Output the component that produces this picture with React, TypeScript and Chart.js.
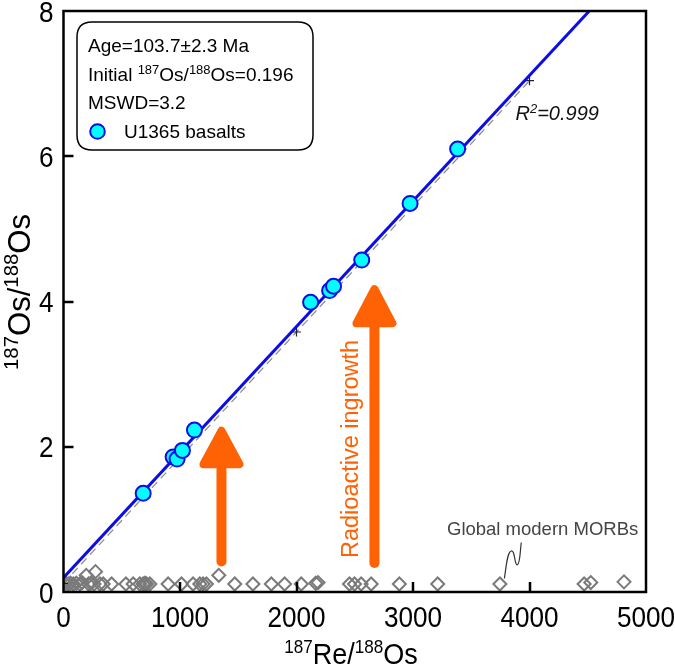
import React, { useEffect, useRef } from 'react';
import { Chart, registerables } from 'chart.js';
Chart.register(...registerables);

// U1365 basalts
const basaltRe = [684, 941, 975, 1021, 1124, 2121, 2284, 2318, 2560, 2975, 3383];
const basaltOs = [1.36, 1.86, 1.83, 1.95, 2.23, 3.99, 4.15, 4.21, 4.57, 5.35, 6.1];

// Global modern MORBs
const morbRe = [5, 20, 41, 60, 84, 110, 141, 160, 195, 215, 235, 262, 275, 313, 341, 413, 536, 598, 655, 684, 700, 713, 741, 898, 1013, 1112, 1170, 1198, 1227, 1333, 1470, 1626, 1784, 1898, 2041, 2165, 2185, 2455, 2498, 2555, 2641, 2883, 3212, 3746, 4469, 4526, 4811];
const morbOs = [0.13, 0.12, 0.11, 0.12, 0.11, 0.12, 0.11, 0.13, 0.23, 0.11, 0.12, 0.11, 0.28, 0.11, 0.11, 0.11, 0.11, 0.11, 0.11, 0.11, 0.12, 0.11, 0.11, 0.11, 0.11, 0.11, 0.11, 0.11, 0.11, 0.23, 0.11, 0.11, 0.11, 0.11, 0.11, 0.12, 0.13, 0.11, 0.11, 0.11, 0.11, 0.11, 0.11, 0.11, 0.11, 0.13, 0.14];

// isochron fit (Age=103.7 Ma, initial 0.196)
const fitRe = [0, 4513];
const fitOs = [0.196, 8];

// regression (R2 = 0.999)
const regRe = [0, 1000, 2000, 3000, 4000];
const regOs = [0.12, 1.85, 3.58, 5.31, 7.04];

const xTicks = [0, 1000, 2000, 3000, 4000, 5000];
const yTicks = [0, 2, 4, 6, 8];

// arrows: [Re, shaft start Os, head base Os, tip Os]
const arrowRe = [1356, 2669];
const arrowFrom = [0.42, 0.4];
const arrowBase = [1.76, 3.7];
const arrowTip = [2.22, 4.17];

// squiggle leader (data coords)
const squigRe = [3785, 3801, 3809, 3843, 3877, 3869, 3895, 3920, 3920, 3929];
const squigOs = [0.193, 0.358, 0.551, 0.565, 0.579, 0.372, 0.372, 0.386, 0.58, 0.675];

const SANS = '"Liberation Sans", Arial, Helvetica, sans-serif';
const ORANGE = '#ff6205';
const BLUE = '#0d0de6';
const NARROW_X = 0.9; // horizontal compression for the narrow axis font
const AX_SIZE = 29;
const AX_SUP = 19;

type Part = [string, boolean];

function richWidth(ctx: CanvasRenderingContext2D, parts: Part[], size: number, sup: number, style = '') {
  let w = 0;
  for (const [t, s] of parts) {
    ctx.font = `${style}${s ? sup : size}px ${SANS}`;
    w += ctx.measureText(t).width;
  }
  return w;
}

function drawRich(ctx: CanvasRenderingContext2D, parts: Part[], x: number, y: number, size: number, sup: number, align: 'left' | 'center', style = '') {
  const w = richWidth(ctx, parts, size, sup, style);
  let cx = align === 'center' ? x - w / 2 : x;
  ctx.textAlign = 'left';
  ctx.textBaseline = 'alphabetic';
  for (const [t, s] of parts) {
    ctx.font = `${style}${s ? sup : size}px ${SANS}`;
    ctx.fillText(t, cx, s ? y - size * 0.36 : y);
    cx += ctx.measureText(t).width;
  }
}

function narrowText(ctx: CanvasRenderingContext2D, text: string, x: number, y: number, align: CanvasTextAlign) {
  ctx.save();
  ctx.translate(x, y);
  ctx.scale(NARROW_X, 1);
  ctx.font = `${AX_SIZE}px ${SANS}`;
  ctx.textAlign = align;
  ctx.textBaseline = 'alphabetic';
  ctx.fillText(text, 0, 0);
  ctx.restore();
}

const decor = {
  id: 'decor',
  afterDatasetsDraw(chart: any) {
    const { ctx, scales } = chart;
    const x = scales.x;
    const y = scales.y;
    ctx.save();

    // arrows
    for (let i = 0; i < arrowRe.length; i++) {
      const px = x.getPixelForValue(arrowRe[i]);
      const pFrom = y.getPixelForValue(arrowFrom[i]);
      const pBase = y.getPixelForValue(arrowBase[i]);
      const pTip = y.getPixelForValue(arrowTip[i]);
      ctx.strokeStyle = ORANGE;
      ctx.fillStyle = ORANGE;
      ctx.lineCap = 'round';
      ctx.lineJoin = 'round';
      ctx.lineWidth = 10;
      ctx.beginPath();
      ctx.moveTo(px, pFrom);
      ctx.lineTo(px, pBase);
      ctx.stroke();
      ctx.lineWidth = 8;
      ctx.beginPath();
      ctx.moveTo(px - 18, pBase);
      ctx.lineTo(px, pTip);
      ctx.lineTo(px + 18, pBase);
      ctx.closePath();
      ctx.fill();
      ctx.stroke();
    }

    // Radioactive ingrowth label
    ctx.save();
    ctx.translate(x.getPixelForValue(2475), y.getPixelForValue(1.97));
    ctx.rotate(-Math.PI / 2);
    ctx.fillStyle = ORANGE;
    ctx.font = `23.5px ${SANS}`;
    ctx.textAlign = 'center';
    ctx.textBaseline = 'middle';
    ctx.fillText('Radioactive ingrowth', 0, 0);
    ctx.restore();

    // squiggle
    ctx.strokeStyle = '#333';
    ctx.lineWidth = 1.2;
    ctx.lineCap = 'round';
    const sp = squigRe.map((r, i) => [x.getPixelForValue(r), y.getPixelForValue(squigOs[i])]);
    ctx.beginPath();
    ctx.moveTo(sp[0][0], sp[0][1]);
    ctx.bezierCurveTo(sp[1][0], sp[1][1], sp[2][0], sp[2][1], sp[3][0], sp[3][1]);
    ctx.bezierCurveTo(sp[4][0], sp[4][1], sp[5][0], sp[5][1], sp[6][0], sp[6][1]);
    ctx.bezierCurveTo(sp[7][0], sp[7][1], sp[8][0], sp[8][1], sp[9][0], sp[9][1]);
    ctx.stroke();

    // MORB label
    ctx.fillStyle = '#444';
    ctx.font = `18.5px ${SANS}`;
    ctx.textAlign = 'left';
    ctx.textBaseline = 'alphabetic';
    ctx.fillText('Global modern MORBs', 447, y.getPixelForValue(0.78));

    // R2
    ctx.fillStyle = '#111';
    drawRich(ctx, [['R', false], ['2', true], ['=0.999', false]], x.getPixelForValue(3880), y.getPixelForValue(6.5), 20, 13, 'left', 'italic ');

    // legend box
    const bx = 77, by = 22, bw = 236, bh = 128, r = 15;
    ctx.beginPath();
    ctx.moveTo(bx + r, by);
    ctx.lineTo(bx + bw - r, by);
    ctx.quadraticCurveTo(bx + bw, by, bx + bw, by + r);
    ctx.lineTo(bx + bw, by + bh - r);
    ctx.quadraticCurveTo(bx + bw, by + bh, bx + bw - r, by + bh);
    ctx.lineTo(bx + r, by + bh);
    ctx.quadraticCurveTo(bx, by + bh, bx, by + bh - r);
    ctx.lineTo(bx, by + r);
    ctx.quadraticCurveTo(bx, by, bx + r, by);
    ctx.closePath();
    ctx.fillStyle = '#fff';
    ctx.fill();
    ctx.strokeStyle = '#000';
    ctx.lineWidth = 1.5;
    ctx.stroke();

    ctx.fillStyle = '#000';
    drawRich(ctx, [['Age=103.7±2.3 Ma', false]], 88, 52, 19, 13, 'left');
    drawRich(ctx, [['Initial ', false], ['187', true], ['Os/', false], ['188', true], ['Os=0.196', false]], 88, 81, 19, 13, 'left');
    drawRich(ctx, [['MSWD=3.2', false]], 88, 109, 19, 13, 'left');
    ctx.beginPath();
    ctx.arc(97.5, 131.5, 7.3, 0, Math.PI * 2);
    ctx.fillStyle = '#00ffff';
    ctx.fill();
    ctx.strokeStyle = BLUE;
    ctx.lineWidth = 2;
    ctx.stroke();
    ctx.fillStyle = '#000';
    drawRich(ctx, [['U1365 basalts', false]], 124, 138, 19, 13, 'left');

    ctx.restore();
  },
  afterDraw(chart: any) {
    const { ctx, chartArea: a, scales } = chart;
    const x = scales.x;
    const y = scales.y;
    ctx.save();
    // frame
    ctx.strokeStyle = '#000';
    ctx.lineWidth = 2.5;
    ctx.strokeRect(a.left, a.top, a.right - a.left, a.bottom - a.top);
    // inward ticks
    ctx.beginPath();
    for (const t of x.ticks) {
      if (t.value <= x.min || t.value >= x.max) continue;
      const px = Math.round(x.getPixelForValue(t.value));
      ctx.moveTo(px, a.bottom);
      ctx.lineTo(px, a.bottom - 10);
    }
    for (const t of y.ticks) {
      if (t.value <= y.min || t.value >= y.max) continue;
      const py = Math.round(y.getPixelForValue(t.value));
      ctx.moveTo(a.left, py);
      ctx.lineTo(a.left + 10, py);
    }
    ctx.stroke();

    // tick labels
    ctx.fillStyle = '#000';
    for (const t of x.ticks) {
      narrowText(ctx, String(t.value), x.getPixelForValue(t.value), a.bottom + 35, 'center');
    }
    for (const t of y.ticks) {
      narrowText(ctx, String(t.value), a.left - 10, y.getPixelForValue(t.value) + 10.5, 'right');
    }

    // axis titles
    ctx.save();
    ctx.translate(351, 664);
    ctx.scale(NARROW_X, 1);
    drawRich(ctx, [['187', true], ['Re/', false], ['188', true], ['Os', false]], 0, 0, AX_SIZE + 1, AX_SUP, 'center');
    ctx.restore();
    ctx.save();
    ctx.translate(30, 292);
    ctx.rotate(-Math.PI / 2);
    ctx.scale(0.97, 1);
    drawRich(ctx, [['187', true], ['Os/', false], ['188', true], ['Os', false]], 0, 0, 32, 21, 'center');
    ctx.restore();
    ctx.restore();
  },
};

export default function App() {
  const ref = useRef<HTMLCanvasElement>(null);
  useEffect(() => {
    const pts = (xs: number[], ys: number[]) => xs.map((v, i) => ({ x: v, y: ys[i] }));
    const chart = new Chart(ref.current!, {
      type: 'scatter',
      data: {
        datasets: [
          {
            label: 'U1365 basalts',
            data: pts(basaltRe, basaltOs),
            pointRadius: 7.5,
            pointBackgroundColor: '#00ffff',
            pointBorderColor: BLUE,
            pointBorderWidth: 2,
            order: 0,
          },
          {
            label: 'fit',
            data: pts(fitRe, fitOs),
            showLine: true,
            borderColor: BLUE,
            borderWidth: 3,
            pointRadius: 0,
            order: 1,
          },
          {
            label: 'reg points',
            data: pts(regRe, regOs),
            pointStyle: 'cross',
            pointRadius: 4.5,
            pointBorderColor: '#222',
            pointBorderWidth: 1.2,
            order: 2,
          },
          {
            label: 'regression',
            data: pts(regRe, regOs),
            showLine: true,
            borderColor: '#8a8a8a',
            borderWidth: 1.2,
            borderDash: [8, 5],
            pointRadius: 0,
            order: 3,
          },
          {
            label: 'Global modern MORBs',
            data: pts(morbRe, morbOs),
            pointStyle: 'rectRot',
            pointRadius: 6.5,
            pointBackgroundColor: 'rgba(255,255,255,0)',
            pointBorderColor: '#7a7a7a',
            pointBorderWidth: 2,
            order: 4,
          },
        ],
      },
      options: {
        animation: false,
        responsive: true,
        maintainAspectRatio: false,
        layout: { padding: { left: 0, top: 11, right: 29, bottom: 0 } },
        plugins: { legend: { display: false }, tooltip: { enabled: false } },
        scales: {
          x: {
            type: 'linear',
            min: 0,
            max: 5000,
            grid: { display: false, drawTicks: false },
            border: { display: false },
            afterBuildTicks: (s: any) => { s.ticks = xTicks.map((v) => ({ value: v })); },
            afterFit: (s: any) => { s.height = 76; s.paddingLeft = 0; s.paddingRight = 0; },
            ticks: { display: false },
          },
          y: {
            type: 'linear',
            min: 0,
            max: 8,
            grid: { display: false, drawTicks: false },
            border: { display: false },
            afterBuildTicks: (s: any) => { s.ticks = yTicks.map((v) => ({ value: v })); },
            afterFit: (s: any) => { s.width = 63.5; s.paddingTop = 0; s.paddingBottom = 0; },
            ticks: { display: false },
          },
        },
      },
      plugins: [decor],
    });
    return () => chart.destroy();
  }, []);
  return (
    <div style={{ position: 'fixed', left: 0, top: 0, width: 675, height: 668, background: '#fff' }}>
      <canvas ref={ref} />
    </div>
  );
}
